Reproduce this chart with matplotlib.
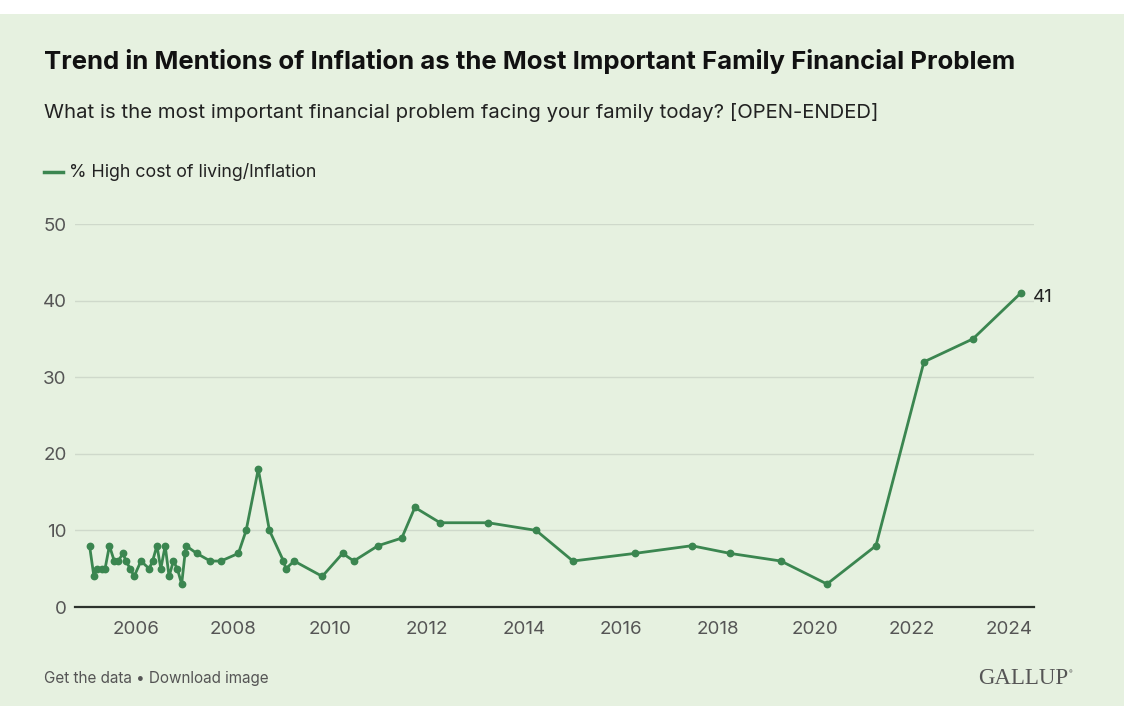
import matplotlib.pyplot as plt
from matplotlib.patches import Rectangle

# survey dates as decimal years, % naming high cost of living / inflation
years = [2005.04, 2005.13, 2005.19, 2005.29, 2005.36, 2005.45, 2005.55, 2005.63,
         2005.73, 2005.79, 2005.88, 2005.96, 2006.10, 2006.27, 2006.34, 2006.43,
         2006.51, 2006.60, 2006.68, 2006.77, 2006.85, 2006.94, 2007.01, 2007.03,
         2007.25, 2007.53, 2007.75, 2008.11, 2008.27, 2008.52, 2008.75, 2009.04,
         2009.09, 2009.26, 2009.84, 2010.26, 2010.49, 2010.99, 2011.48, 2011.75,
         2012.27, 2013.26, 2014.25, 2015.01, 2016.29, 2017.46, 2018.25, 2019.30,
         2020.25, 2021.26, 2022.25, 2023.26, 2024.25]
values = [8, 4, 5, 5, 5, 8, 6, 6,
          7, 6, 5, 4, 6, 5, 6, 8,
          5, 8, 4, 6, 5, 3, 7, 8,
          7, 6, 6, 7, 10, 18, 10, 6,
          5, 6, 4, 7, 6, 8, 9, 13,
          11, 11, 10, 6, 7, 8, 7, 6,
          3, 8, 32, 35, 41]
xticks = list(range(2006, 2025, 2))
yticks = [0, 10, 20, 30, 40, 50]

bg = '#e6f1e0'
green = '#3b8650'
grey = '#555555'

plt.rcParams['font.family'] = ['Inter', 'DejaVu Sans']

fig = plt.figure(figsize=(11.24, 7.06), dpi=100, facecolor=bg)
fig.patches.append(Rectangle((0, 1 - 14 / 706), 1, 14 / 706, transform=fig.transFigure,
                             facecolor='white', edgecolor='none', zorder=0))

ax = fig.add_axes([75 / 1124, 99 / 706, 959 / 1124, 383 / 706])
ax.set_facecolor(bg)
ax.plot(years, values, color=green, lw=2.0, marker='o', ms=4.6, zorder=3, clip_on=False)
ax.annotate(str(values[-1]), (years[-1], values[-1]), xytext=(8.5, -3), textcoords='offset points',
            va='center', ha='left', fontsize=13.5, color='#222222')

ax.set_xlim(2004.74, 2024.52)
ax.set_ylim(0, 50)
ax.set_xticks(xticks)
ax.set_yticks(yticks)
ax.grid(axis='y', color='#cfd9cb', lw=1)
ax.set_axisbelow(True)
for s in ['top', 'right', 'left']:
    ax.spines[s].set_visible(False)
ax.spines['bottom'].set_color('#2d332d')
ax.spines['bottom'].set_linewidth(1.6)
ax.tick_params(axis='both', length=0, labelsize=13.5, labelcolor=grey)
ax.tick_params(axis='y', pad=6)
ax.tick_params(axis='x', pad=10)

fig.text(44 / 1124, 1 - 62 / 706, 'Trend in Mentions of Inflation as the Most Important Family Financial Problem',
         fontsize=18.5, fontweight='bold', color='#111111', va='center')
fig.text(44 / 1124, 1 - 112 / 706, 'What is the most important financial problem facing your family today? [OPEN-ENDED]',
         fontsize=14.6, color='#222222', va='center')
fig.lines.append(plt.Line2D([44 / 1124, 63 / 1124], [1 - 172 / 706] * 2, transform=fig.transFigure,
                            color=green, lw=2.5))
fig.text(69 / 1124, 1 - 172 / 706, '% High cost of living/Inflation', fontsize=12.8, color='#222222', va='center')
fig.text(44 / 1124, 1 - 679 / 706, 'Get the data \u2022 Download image', fontsize=11, color=grey, va='center')
fig.text(1068 / 1124, 1 - 679 / 706, 'GALLUP', fontsize=16.5, color=grey, va='center', ha='right',
         family=['Liberation Serif', 'DejaVu Serif'])
fig.text(1069 / 1124, 1 - 673 / 706, '\u00ae', fontsize=4, color=grey, va='center', ha='left')

fig.savefig('out.png', dpi=100, facecolor=bg)
